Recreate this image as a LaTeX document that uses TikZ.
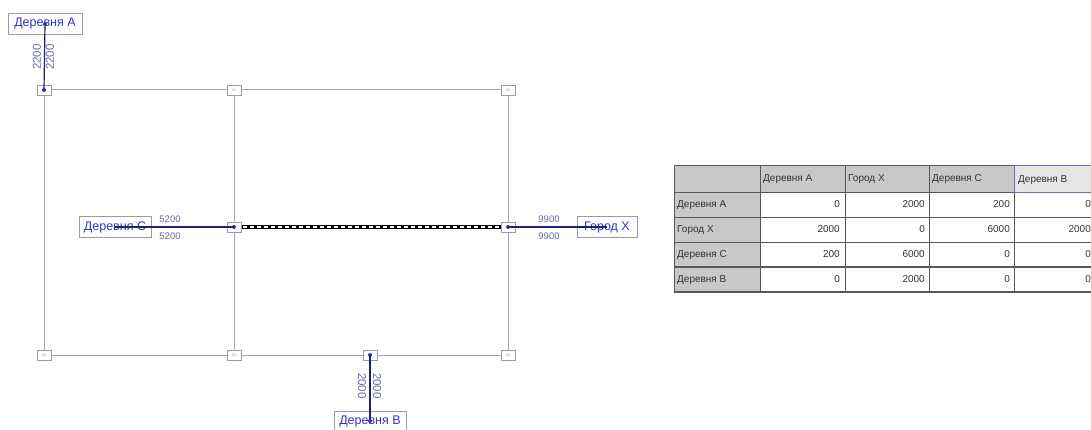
\documentclass[tikz,border=0pt]{standalone}
\usepackage{fontspec}
\setmainfont{Liberation Sans}
\usetikzlibrary{positioning}
\definecolor{lblue}{HTML}{3535C0}
\definecolor{gridg}{HTML}{A8A8A8}
\definecolor{boxg}{HTML}{9A9AAA}
\definecolor{numc}{HTML}{6A6AA0}
\definecolor{hdr}{HTML}{C8C8C8}
\definecolor{tline}{HTML}{585858}
\tikzset{
  gridline/.style={draw=gridg, line width=1pt},
  pt/.style={draw=boxg, fill=white, minimum width=14pt, minimum height=10pt, inner sep=0pt, font=\fontsize{4}{4}\selectfont, text=boxg},
  dotc/.style={circle, fill=lblue, inner sep=0pt, minimum size=4pt},
  place/.style={draw=boxg, fill=white, line width=0.8pt, text=lblue, font=\fontsize{12.5}{12.5}\selectfont, minimum height=21pt, inner sep=2pt},
  link/.style={draw=lblue!60!black, line width=1.2pt},
  num/.style={text=numc, font=\fontsize{9.5}{9.5}\selectfont, inner sep=0pt},
  vnum/.style={text=numc, font=\fontsize{11.5}{11.5}\selectfont, inner sep=0pt},
  cell/.style={font=\fontsize{10}{11}\selectfont, text=black!80, inner sep=2pt},
}
\begin{document}
\begin{tikzpicture}[x=1pt,y=-1pt]
\useasboundingbox (0,0) rectangle (1091,430);
\clip (0,0) rectangle (1091,430);
\fill[white] (0,0) rectangle (1091,430);
% grid
\coordinate (g11) at (44,90);
\coordinate (g12) at (234,90);
\coordinate (g13) at (508,90);
\coordinate (g31) at (44,355);
\coordinate (g32) at (234,355);
\coordinate (g33) at (508,355);
\draw[gridline] (g11) -- (g13) -- (g33) -- (g31) -- cycle;
\draw[gridline] (g12) -- (g32);
% thick dashed route
\draw[line width=3.5pt, black] (234,227) -- (508,227);
\draw[line width=2.3pt, white, dash pattern=on 3.5pt off 3.5pt] (236,227) -- (506,227);
% points
\node[pt] (pA) at (44,90) {};
\node[dotc] at (pA) {};
\node[pt] (p11) at (234,90) {11};
\node[pt] (p41) at (508,90) {41};
\node[pt] (pC) at (234,227) {};
\node[dotc] at (pC) {};
\node[pt] (pX) at (508,227) {};
\node[dotc] at (pX) {};
\node[pt] (p12) at (44,355) {12};
\node[pt] (p21) at (234,355) {21};
\node[pt] (pB) at (370,355) {};
\node[dotc] at (pB) {};
\node[pt] (p31) at (508,355) {31};
% places
\node[place, minimum width=74pt] (A) at (45,24) {Деревня A};
\node[place, minimum width=72pt] (C) at (115,227) {Деревня C};
\node[place, minimum width=60pt] (X) at (607,227) {Город X};
\node[place, minimum width=72pt, minimum height=20pt] (B) at (370,421) {Деревня B};
% links
\draw[link] (A.center) -- (pA.center);
\node[dotc] at (A.center) {};
\draw[link] (C.center) -- (pC.center);
\draw[link] (pX.center) -- (X.center);
\draw[link] (pB.center) -- (B.center);
\node[dotc] at (B.center) {};
% numbers
\node[vnum, rotate=90] (nA1) at (37,57) {2200};
\node[vnum, rotate=90] (nA2) at (50,57) {2200};
\node[num] (nC1) at (170,219) {5200};
\node[num] (nC2) at (170,236) {5200};
\node[num] (nX1) at (549,219) {9900};
\node[num] (nX2) at (549,236) {9900};
\node[vnum, rotate=-90] (nB1) at (362,386) {2000};
\node[vnum, rotate=-90] (nB2) at (377,386) {2000};
% table
\fill[hdr] (674,165) rectangle (1014,192);
\fill[hdr] (674,192) rectangle (760,292);
\fill[black!10] (1014,165) rectangle (1100,192);
\foreach \x in {674,760,845,929,1014}
  \draw[tline, line width=1pt] (\x,165) -- (\x,292);
\foreach \y in {165,192,217,242}
  \draw[tline, line width=0.8pt] (674,\y) -- (1100,\y);
\draw[tline, line width=1.6pt] (674,267) -- (1100,267);
\draw[tline, line width=1.6pt] (674,292) -- (1100,292);
\draw[boxg!70!blue, line width=0.8pt] (1014,165) rectangle (1100,192);
% headers
\node[cell, anchor=west] (h1) at (761,179) {Деревня A};
\node[cell, anchor=west] (h2) at (846,179) {Город X};
\node[cell, anchor=west] (h3) at (930,179) {Деревня C};
\node[cell, anchor=west] (h4) at (1016,180) {Деревня B};
\node[cell, anchor=west] (r1) at (675,205) {Деревня A};
\node[cell, anchor=west] (r2) at (675,230) {Город X};
\node[cell, anchor=west] (r3) at (675,255) {Деревня C};
\node[cell, anchor=west] (r4) at (675,280) {Деревня B};
% values
\foreach \r/\y/\a/\b/\c/\d in {1/204.5/0/2000/200/0, 2/229.5/2000/0/6000/2000, 3/254.5/200/6000/0/0, 4/279.5/0/2000/0/0}{
  \node[cell, anchor=east] (va\r) at (842,\y) {\a};
  \node[cell, anchor=east] (vb\r) at (927,\y) {\b};
  \node[cell, anchor=east] (vc\r) at (1012,\y) {\c};
  \node[cell, anchor=east] (vd\r) at (1093,\y) {\d};
}
\end{tikzpicture}
\end{document}
